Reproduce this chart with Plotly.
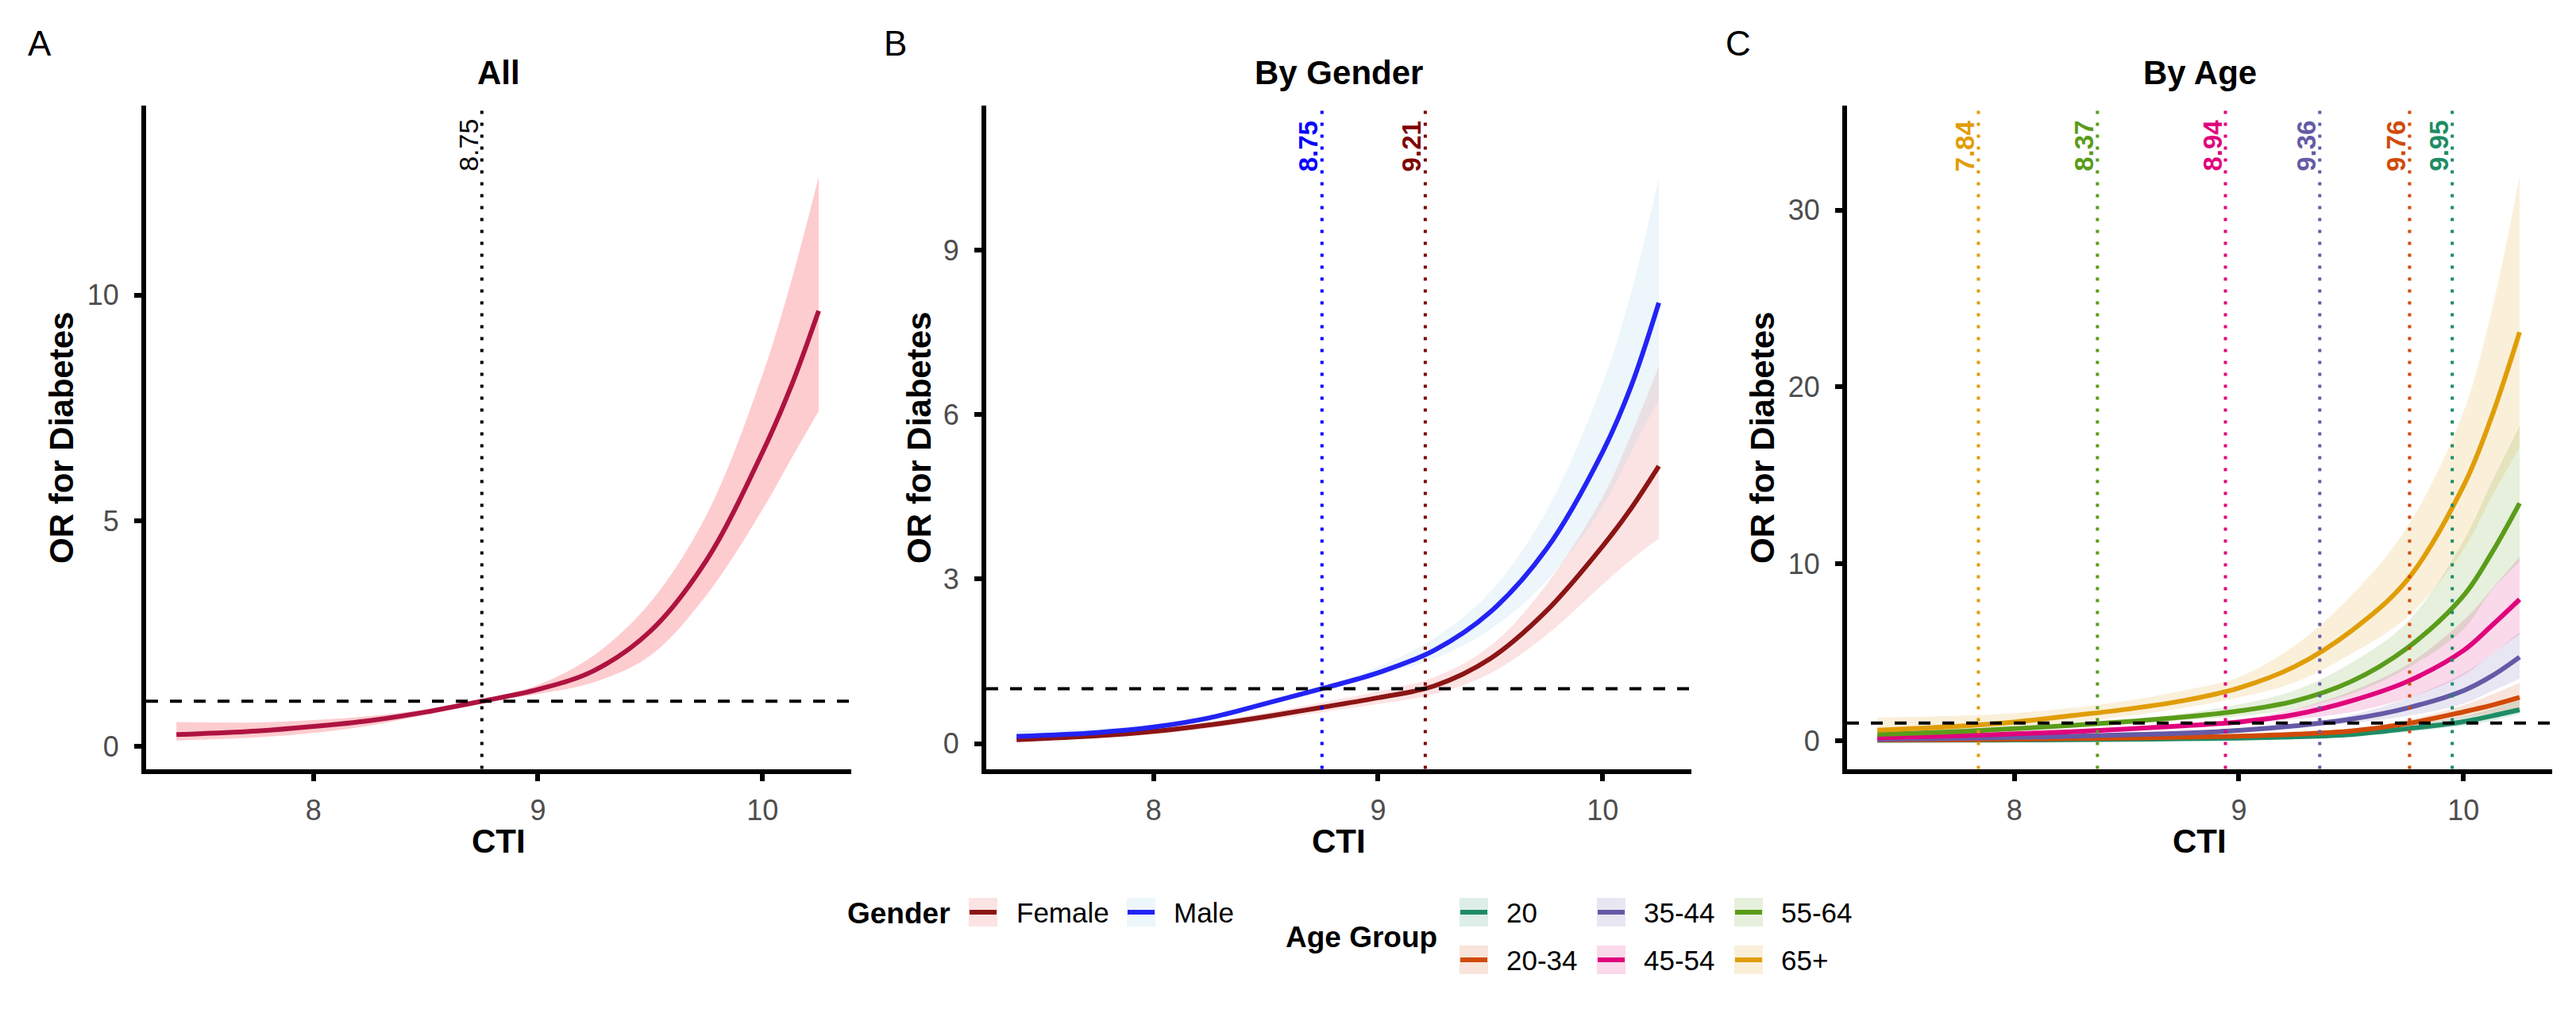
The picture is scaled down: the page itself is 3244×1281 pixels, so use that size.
import plotly.graph_objects as go

W, H = 3244, 1281

# ---------------- data ----------------
cti = [7.39, 7.75, 8.0, 8.25, 8.5, 8.75, 9.0, 9.25, 9.5, 9.75, 10.0, 10.125, 10.25]

# Panel A: All
all_or = [0.26, 0.34, 0.44, 0.57, 0.76, 1.00, 1.26, 1.68, 2.55, 4.12, 6.52, 7.95, 9.65]
all_lo = [0.13, 0.20, 0.30, 0.46, 0.70, 0.98, 1.16, 1.42, 2.01, 3.35, 5.25, 6.35, 7.43]
all_hi = [0.54, 0.53, 0.58, 0.67, 0.82, 1.02, 1.36, 2.02, 3.19, 5.12, 8.24, 10.26, 12.62]
all_cut = [8.75]

# Panel B: by gender
female_or = [0.07, 0.14, 0.22, 0.34, 0.49, 0.66, 0.835, 1.05, 1.55, 2.42, 3.60, 4.28, 5.06]
female_lo = [0.04, 0.10, 0.17, 0.28, 0.42, 0.57, 0.72, 0.90, 1.28, 1.98, 2.90, 3.35, 3.74]
female_hi = [0.10, 0.17, 0.26, 0.39, 0.56, 0.75, 0.95, 1.21, 1.78, 2.90, 4.50, 5.62, 6.88]
male_or = [0.13, 0.20, 0.30, 0.47, 0.73, 1.00, 1.29, 1.70, 2.40, 3.55, 5.32, 6.50, 8.04]
male_lo = [0.07, 0.14, 0.25, 0.43, 0.69, 0.97, 1.24, 1.55, 2.08, 2.96, 4.32, 5.30, 6.28]
male_hi = [0.24, 0.27, 0.35, 0.51, 0.77, 1.03, 1.40, 1.92, 2.77, 4.24, 6.57, 8.20, 10.31]
gender_names = ["Female", "Male"]
gender_cut = [9.21, 8.75]

# Panel C: by age group
age_names = ["20", "20-34", "35-44", "45-54", "55-64", "65+"]
age20_or = [0.02, 0.03, 0.04, 0.06, 0.08, 0.11, 0.15, 0.22, 0.35, 0.68, 1.08, 1.40, 1.75]
age20_lo = [0.00, 0.00, 0.01, 0.02, 0.03, 0.05, 0.08, 0.13, 0.24, 0.50, 0.84, 1.12, 1.51]
age20_hi = [0.12, 0.10, 0.10, 0.12, 0.15, 0.18, 0.23, 0.31, 0.46, 0.88, 1.38, 1.80, 2.30]
age2034_or = [0.05, 0.06, 0.09, 0.12, 0.15, 0.20, 0.26, 0.37, 0.55, 0.97, 1.63, 2.00, 2.45]
age2034_lo = [0.01, 0.02, 0.04, 0.07, 0.10, 0.14, 0.19, 0.28, 0.44, 0.80, 1.30, 1.55, 1.85]
age2034_hi = [0.15, 0.14, 0.15, 0.18, 0.21, 0.26, 0.33, 0.46, 0.68, 1.18, 2.00, 2.60, 3.28]
age3544_or = [0.08, 0.13, 0.19, 0.25, 0.34, 0.43, 0.58, 0.84, 1.22, 1.85, 2.83, 3.65, 4.73]
age3544_lo = [0.02, 0.06, 0.12, 0.18, 0.27, 0.36, 0.48, 0.72, 1.00, 1.40, 2.10, 2.80, 3.50]
age3544_hi = [0.20, 0.22, 0.27, 0.32, 0.40, 0.50, 0.66, 0.96, 1.45, 2.40, 3.80, 4.90, 6.12]
age4554_or = [0.17, 0.28, 0.39, 0.51, 0.66, 0.84, 1.06, 1.48, 2.25, 3.35, 5.10, 6.50, 7.99]
age4554_lo = [0.09, 0.20, 0.31, 0.43, 0.58, 0.76, 0.94, 1.22, 1.62, 2.40, 3.70, 4.90, 6.00]
age4554_hi = [0.30, 0.38, 0.48, 0.60, 0.75, 0.93, 1.20, 1.80, 2.80, 4.30, 6.80, 8.55, 10.40]
age5564_or = [0.36, 0.52, 0.68, 0.86, 1.08, 1.34, 1.68, 2.25, 3.35, 5.25, 8.20, 10.60, 13.43]
age5564_lo = [0.25, 0.42, 0.58, 0.76, 0.98, 1.17, 1.38, 1.80, 2.65, 4.10, 6.30, 8.50, 10.10]
age5564_hi = [0.52, 0.66, 0.80, 0.97, 1.19, 1.53, 2.05, 2.85, 4.40, 6.70, 11.30, 14.60, 17.80]
age65_or = [0.60, 0.82, 1.06, 1.41, 1.78, 2.26, 2.98, 4.20, 6.20, 9.10, 14.40, 18.30, 23.10]
age65_lo = [0.31, 0.47, 0.73, 1.03, 1.39, 1.85, 2.45, 3.30, 4.90, 7.00, 10.80, 13.80, 16.60]
age65_hi = [1.30, 1.41, 1.56, 1.85, 2.26, 2.83, 3.60, 5.40, 8.20, 12.10, 18.60, 24.30, 31.90]
age_cut = [9.95, 9.76, 9.36, 8.94, 8.37, 7.84]

x_ticks = [8, 9, 10]
yA_ticks = [0, 5, 10]
yB_ticks = [0, 3, 6, 9]
yC_ticks = [0, 10, 20, 30]

# ---------------- styles ----------------
FONT = "Liberation Sans, Arial, sans-serif"
all_line = "#AE1340"
all_fill = "rgb(253,204,207)"
female_line = "#8C1515"
male_line = "#2323F5"
female_fill = "rgba(240,128,128,0.22)"
male_fill = "rgba(173,216,230,0.22)"
gender_vcol = ["#7F0000", "#0000FF"]
age_cols = ["#1E8C64", "#D14A08", "#655AA6", "#E0037C", "#5A9C1A", "#E09D07"]


def rgba(hexc, a):
    h = hexc.lstrip("#")
    r, g, b = int(h[0:2], 16), int(h[2:4], 16), int(h[4:6], 16)
    return f"rgba({r},{g},{b},{a})"


def px_x(p):
    return p / W


def px_y(p):
    return 1 - p / H


fig = go.Figure()


def add_band(lo, hi, fill, xa, ya):
    fig.add_trace(go.Scatter(x=cti, y=lo, mode="lines", line=dict(width=0, shape="spline"),
                             xaxis=xa, yaxis=ya, showlegend=False, hoverinfo="skip"))
    fig.add_trace(go.Scatter(x=cti, y=hi, mode="lines", line=dict(width=0, shape="spline"),
                             fill="tonexty", fillcolor=fill, xaxis=xa, yaxis=ya,
                             showlegend=False, hoverinfo="skip"))


def add_line(y, color, name, xa, ya):
    fig.add_trace(go.Scatter(x=cti, y=y, mode="lines", name=name,
                             line=dict(color=color, width=6, shape="spline"),
                             xaxis=xa, yaxis=ya, showlegend=False))


# Panel A
add_band(all_lo, all_hi, all_fill, "x", "y")
add_line(all_or, all_line, "All", "x", "y")

# Panel B
add_band(female_lo, female_hi, female_fill, "x2", "y2")
add_band(male_lo, male_hi, male_fill, "x2", "y2")
add_line(female_or, female_line, "Female", "x2", "y2")
add_line(male_or, male_line, "Male", "x2", "y2")

# Panel C
age_or = [age20_or, age2034_or, age3544_or, age4554_or, age5564_or, age65_or]
age_lo = [age20_lo, age2034_lo, age3544_lo, age4554_lo, age5564_lo, age65_lo]
age_hi = [age20_hi, age2034_hi, age3544_hi, age4554_hi, age5564_hi, age65_hi]
for lo, hi, c in zip(age_lo, age_hi, age_cols):
    add_band(lo, hi, rgba(c, 0.15), "x3", "y3")
for y, c, n in zip(age_or, age_cols, age_names):
    add_line(y, c, n, "x3", "y3")

# ---------------- axes ----------------
x_range = [7.255, 10.395]
dom_y = [px_y(968.5), px_y(133)]
panels = [
    dict(xd=[184, 1072], yr=[-0.50, 14.20], yt=yA_ticks),
    dict(xd=[1242, 2130], yr=[-0.463, 11.635], yt=yB_ticks),
    dict(xd=[2326, 3214], yr=[-1.593, 35.91], yt=yC_ticks),
]

axis_common = dict(showline=True, linewidth=6, linecolor="black", ticks="outside",
                   ticklen=9, tickwidth=6, tickcolor="black", showgrid=False,
                   zeroline=False, tickfont=dict(size=36, color="#4D4D4D", family=FONT),
                   fixedrange=True)
layout = {}
for i, p in enumerate(panels):
    sfx = "" if i == 0 else str(i + 1)
    layout["xaxis" + sfx] = dict(axis_common, domain=[px_x(p["xd"][0]), px_x(p["xd"][1])],
                                 range=x_range, tickvals=x_ticks, anchor="y" + sfx,
                                 ticklabelstandoff=6)
    layout["yaxis" + sfx] = dict(axis_common, domain=dom_y, range=p["yr"], tickvals=p["yt"],
                                 anchor="x" + sfx, ticklabelstandoff=12)

shapes = []
annotations = []

# reference lines
for i in range(3):
    sfx = "" if i == 0 else str(i + 1)
    shapes.append(dict(type="line", xref="x" + sfx + " domain", yref="y" + sfx,
                       x0=0, x1=1, y0=1, y1=1, layer="above",
                       line=dict(color="black", width=4, dash="15px,15px")))
    # corner joint of the axis lines
    x0 = panels[i]["xd"][0]
    shapes.append(dict(type="rect", xref="paper", yref="paper", x0=px_x(x0 - 6), x1=px_x(x0),
                       y0=px_y(974.5), y1=px_y(968.5), fillcolor="black", line=dict(width=0)))

LABEL_Y = px_y(218)


def add_cut(xv, color, sfx, bold):
    shapes.append(dict(type="line", xref="x" + sfx, yref="y" + sfx + " domain",
                       x0=xv, x1=xv, y0=0, y1=1, layer="above",
                       line=dict(color=color, width=4, dash="4px,11px")))
    annotations.append(dict(x=xv, xref="x" + sfx, y=LABEL_Y, yref="paper", text=f"{xv:.2f}",
                            showarrow=False, textangle=-90, xanchor="right", yanchor="bottom",
                            xshift=4,
                            font=dict(size=34 if not bold else 33, color=color, family=FONT,
                                      weight="bold" if bold else "normal")))


for v in all_cut:
    add_cut(v, "black", "", False)
for v, c in zip(gender_cut, gender_vcol):
    add_cut(v, c, "2", True)
for v, c in zip(age_cut, age_cols):
    add_cut(v, c, "3", True)

# titles, panel letters, axis titles
titles = ["All", "By Gender", "By Age"]
letters = ["A", "B", "C"]
letter_x = [33, 1111, 2171]
ytitle_x = [77, 1157, 2219]
for i, p in enumerate(panels):
    cx = (p["xd"][0] + p["xd"][1]) / 2
    annotations.append(dict(x=px_x(cx), y=px_y(91.5), xref="paper", yref="paper", text=titles[i],
                            showarrow=False, xanchor="center", yanchor="middle",
                            font=dict(size=42, color="black", family=FONT, weight="bold")))
    annotations.append(dict(x=px_x(letter_x[i]), y=px_y(54), xref="paper", yref="paper",
                            text=letters[i], showarrow=False, xanchor="left", yanchor="middle",
                            font=dict(size=44, color="black", family=FONT)))
    annotations.append(dict(x=px_x(cx), y=px_y(1059), xref="paper", yref="paper", text="CTI",
                            showarrow=False, xanchor="center", yanchor="middle",
                            font=dict(size=42, color="black", family=FONT, weight="bold")))
    annotations.append(dict(x=px_x(ytitle_x[i]), y=px_y(552), xref="paper", yref="paper",
                            text="OR for Diabetes", showarrow=False, textangle=-90,
                            xanchor="center", yanchor="middle",
                            font=dict(size=42, color="black", family=FONT, weight="bold")))

# ---------------- legends (keys drawn as ggplot-style boxes) ----------------
def add_key(left, cy, fill, line_color, label, text_x):
    shapes.append(dict(type="rect", xref="paper", yref="paper",
                       x0=px_x(left), x1=px_x(left + 36), y0=px_y(cy + 18), y1=px_y(cy - 18),
                       fillcolor=fill, line=dict(width=0)))
    shapes.append(dict(type="line", xref="paper", yref="paper",
                       x0=px_x(left + 1), x1=px_x(left + 35), y0=px_y(cy), y1=px_y(cy),
                       line=dict(color=line_color, width=6)))
    annotations.append(dict(x=px_x(text_x), y=px_y(cy), xref="paper", yref="paper", text=label,
                            showarrow=False, xanchor="left", yanchor="middle",
                            font=dict(size=35, color="black", family=FONT)))


annotations.append(dict(x=px_x(1065), y=px_y(1150), xref="paper", yref="paper", text="Gender",
                        showarrow=False, xanchor="left", yanchor="middle",
                        font=dict(size=37, color="black", family=FONT, weight="bold")))
add_key(1220, 1149, female_fill, female_line, gender_names[0], 1278)
add_key(1419, 1149, male_fill, male_line, gender_names[1], 1476)

annotations.append(dict(x=px_x(1617), y=px_y(1180), xref="paper", yref="paper", text="Age Group",
                        showarrow=False, xanchor="left", yanchor="middle",
                        font=dict(size=37, color="black", family=FONT, weight="bold")))
key_cols = [1838, 2011, 2184]
key_rows = [1149, 1209]
for k, (name, c) in enumerate(zip(age_names, age_cols)):
    col, row = k // 2, k % 2
    add_key(key_cols[col], key_rows[row], rgba(c, 0.15), c, name, key_cols[col] + 57)

fig.update_layout(
    width=W, height=H, margin=dict(l=0, r=0, t=0, b=0, pad=0),
    paper_bgcolor="white", plot_bgcolor="white",
    font=dict(family=FONT, color="black"),
    showlegend=False, shapes=shapes, annotations=annotations, **layout,
)

fig.write_html("out.html", config={"displayModeBar": False},
               post_script="document.body.style.margin='0';document.body.style.overflow='hidden';")
